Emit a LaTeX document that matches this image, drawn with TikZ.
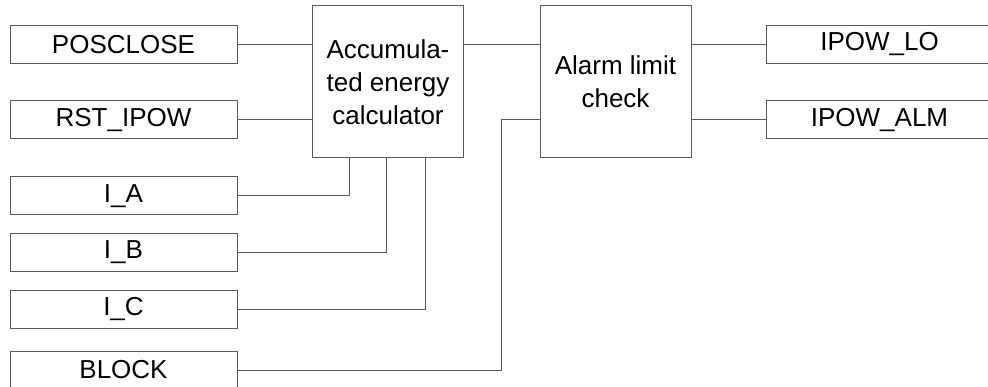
\documentclass[tikz,border=0pt]{standalone}
\usepackage{fontspec}
\setmainfont{Liberation Sans}
\definecolor{lineg}{RGB}{90,90,90}
\usetikzlibrary{positioning,calc}

\begin{document}
\begin{tikzpicture}[x=1pt,y=-1pt,
  sigbox/.style={draw=lineg,line width=1pt,minimum width=227pt,minimum height=38pt,
    inner sep=0pt,font=\fontsize{26}{31}\selectfont},
  funcbox/.style={draw=lineg,line width=1pt,minimum width=151pt,minimum height=152pt,
    inner sep=0pt,align=center,font=\fontsize{26}{33}\selectfont},
  wire/.style={lineg,line width=1pt}
]
  \useasboundingbox (0,0) rectangle (988,387);
  \clip (0,0) rectangle (988,387);

  % Inputs
  \node[sigbox] (posclose) at (123.5,44.5) {POSCLOSE};
  \node[sigbox] (rst) at (123.5,120) {RST\_IPOW};
  \node[sigbox] (ia) at (123.5,196) {I\_A};
  \node[sigbox] (ib) at (123.5,252.5) {I\_B};
  \node[sigbox] (ic) at (123.5,309.5) {I\_C};
  \node[sigbox] (block) at (123.5,370) {BLOCK};

  % Function blocks
  \node[funcbox] (acc) at (388,82) {Accumula-\\ted energy\\calculator};
  \node[funcbox] (alarm) at (615.5,82) {Alarm limit\\check};

  % Outputs
  \node[sigbox] (lo) at (879.5,44.5) {IPOW\_LO};
  \node[sigbox] (alm) at (879.5,120) {IPOW\_ALM};

  % Connections
  \draw[wire] (posclose.east) -- (posclose.east -| acc.west);
  \draw[wire] (rst.east) -- (rst.east -| acc.west);
  \draw[wire] (ia.east) -| ([xshift=37pt]acc.south west);
  \draw[wire] (ib.east) -| ([xshift=74pt]acc.south west);
  \draw[wire] (ic.east) -| ([xshift=113pt]acc.south west);
  \draw[wire] (acc.east |- posclose.east) -- (alarm.west |- posclose.east);
  \draw[wire] (block.east) -| ([xshift=-38pt,yshift=-38pt]alarm.west) -- ([yshift=-38pt]alarm.west);
  \draw[wire] (alarm.east |- lo.west) -- (lo.west);
  \draw[wire] (alarm.east |- alm.west) -- (alm.west);
\end{tikzpicture}
\end{document}
